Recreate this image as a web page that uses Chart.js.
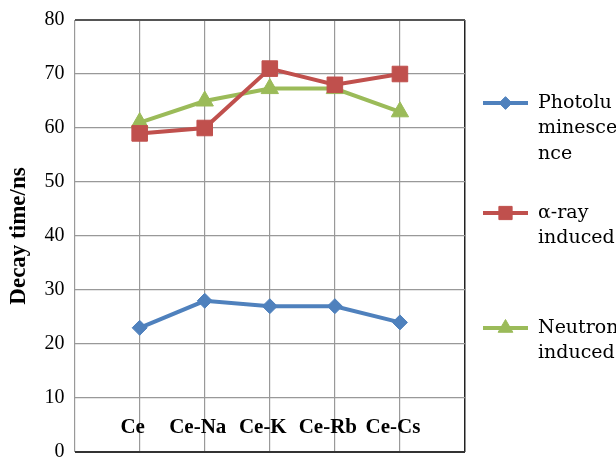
<!DOCTYPE html>
<html>
<head>
<meta charset="utf-8">
<script src="https://cdn.jsdelivr.net/npm/chart.js@4/dist/chart.umd.min.js"></script>
<style>
  html, body { margin: 0; background: #fff; overflow: hidden; }
  /* the canvas is a bit taller than the frame so the "0" label is cut like the original */
  #frame { width: 616px; height: 457px; overflow: hidden; position: relative; }
  canvas { display: block; }
</style>
</head>
<body>
<div id="frame">
  <canvas id="decayChart" width="616" height="468"></canvas>
</div>
<script>
// Decay time per sample
const categories = ['Ce', 'Ce-Na', 'Ce-K', 'Ce-Rb', 'Ce-Cs'];
const photoluminescence = [23, 28, 27, 27, 24];
const alphaRayInduced = [59, 60, 71, 68, 70];
const neutronInduced = [61, 65, 67.3, 67.3, 63];
const yTicks = [0, 10, 20, 30, 40, 50, 60, 70, 80];
const legendLines = [
  ['Photolu', 'minesce', 'nce'],
  ['\u03b1-ray', 'induced'],
  ['Neutron', 'induced'],
];

const toPoints = vals => vals.map((v, i) => ({ x: i + 1, y: v }));

const series = [
  { values: photoluminescence, color: '#4F81BD', style: 'rectRot', r: 7.5 },
  { values: alphaRayInduced, color: '#C0504D', style: 'rect', r: 11 },
  { values: neutronInduced, color: '#9BBB59', style: 'triangle', r: 10 },
];

// legend drawn by hand so the labels can wrap like the original
const sideLegend = {
  id: 'sideLegend',
  afterDraw(chart) {
    const ctx = chart.ctx;
    const x0 = chart.chartArea.right + 18;
    const tops = [103, 213, 328];
    ctx.save();
    chart.data.datasets.forEach((ds, i) => {
      const y = tops[i];
      ctx.strokeStyle = ds.borderColor;
      ctx.lineWidth = 4;
      ctx.beginPath();
      ctx.moveTo(x0, y);
      ctx.lineTo(x0 + 45, y);
      ctx.stroke();
      ctx.fillStyle = ds.backgroundColor;
      ctx.lineWidth = 1;
      Chart.helpers.drawPoint(ctx, {
        pointStyle: ds.pointStyle, radius: ds.pointRadius * 0.85, borderWidth: 1, rotation: 0
      }, x0 + 22.5, y);
      ctx.fillStyle = '#000';
      ctx.font = '19px "DejaVu Serif"';
      ctx.textBaseline = 'middle';
      legendLines[i].forEach((t, k) => ctx.fillText(t, x0 + 55, y + k * 25.5));
    });
    ctx.restore();
  }
};

new Chart(document.getElementById('decayChart'), {
  type: 'line',
  data: {
    datasets: series.map((s, i) => ({
      label: legendLines[i].join(''),
      data: toPoints(s.values),
      borderColor: s.color,
      backgroundColor: s.color,
      borderWidth: 4,
      pointStyle: s.style,
      pointRadius: s.r,
      pointBorderWidth: 1,
      tension: 0,
    }))
  },
  options: {
    responsive: false,
    animation: false,
    layout: { padding: { left: 0, right: 151, top: 20, bottom: 6 } },
    plugins: {
      legend: { display: false },
      tooltip: { enabled: false },
    },
    scales: {
      x: {
        type: 'linear',
        min: 0,
        max: 6,
        border: { display: false },
        grid: {
          drawTicks: false,
          color: c => c.tick.value === 6 ? '#222' : '#999',
          lineWidth: c => c.tick.value === 6 ? 1.5 : 1.2,
        },
        afterFit: s => { s.height = 0; s.paddingLeft = 0; s.paddingRight = 0; },
        ticks: {
          stepSize: 1,
          mirror: true,
          padding: 12,
          labelOffset: -7,
          maxRotation: 0,
          minRotation: 0,
          autoSkip: false,
          color: '#000',
          font: { family: 'Liberation Serif', size: 21, weight: 'bold' },
          callback: v => categories[v - 1] || '',
        },
      },
      y: {
        min: 0,
        max: 80,
        afterBuildTicks: s => { s.ticks = yTicks.map(v => ({ value: v })); },
        border: { display: false },
        grid: {
          drawTicks: false,
          color: c => c.tick.value === 0 ? '#333' : (c.tick.value === 80 ? '#555' : '#999'),
          lineWidth: c => (c.tick.value === 0 || c.tick.value === 80) ? 2 : 1.2,
        },
        ticks: {
          padding: 10,
          color: '#000',
          font: { family: 'Liberation Serif', size: 20, lineHeight: 0.6 },
        },
        title: {
          display: true,
          text: 'Decay time/ns',
          color: '#000',
          padding: { top: 5, bottom: 2 },
          font: { family: 'Liberation Serif', size: 23, weight: 'bold' },
        },
      },
    },
  },
  plugins: [sideLegend],
});
</script>
</body>
</html>
